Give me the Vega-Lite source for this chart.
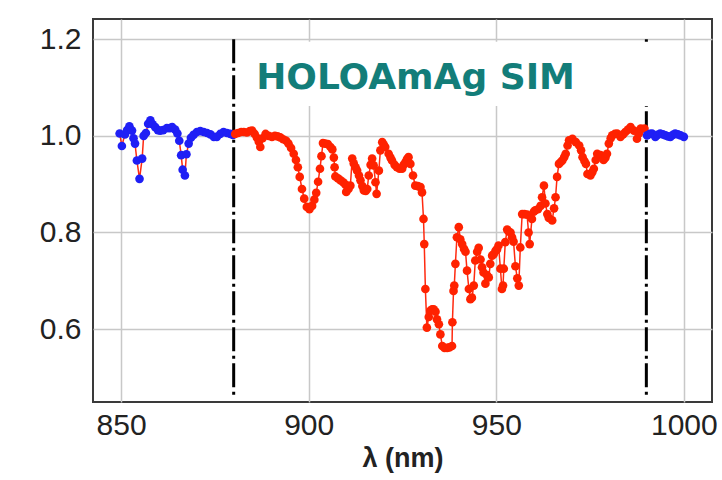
{
  "$schema": "https://vega.github.io/schema/vega-lite/v6.json",
  "width": 619,
  "height": 383,
  "autosize": {"type": "none"},
  "padding": {"left": 93, "top": 19, "right": 10, "bottom": 78},
  "background": "white",
  "config": {
    "view": {"stroke": "#3a3a3a", "strokeWidth": 2},
    "axis": {
      "domain": false,
      "ticks": false,
      "grid": true,
      "gridColor": "#c8c8c8",
      "gridWidth": 1.5,
      "labelFont": "Liberation Sans",
      "labelFontSize": 30,
      "labelColor": "#222222",
      "labelOverlap": false
    }
  },
  "datasets": {
    "vlines": [
      {"lam": 880, "top": 1.2, "bottom": 0.46},
      {"lam": 990, "top": 1.2, "bottom": 0.46}
    ],
    "box": [
      {"x1": 881.2, "x2": 992.5, "y1": 1.195, "y2": 1.062}
    ],
    "label": [
      {"lam": 886.0, "v": 1.097, "text": "HOLOAmAg SIM"}
    ],
    "spec": [
      {"lam": 849.6, "v": 1.005}, {"lam": 850.2, "v": 0.979}, {"lam": 851.0, "v": 1.003}, {"lam": 851.6, "v": 1.012},
      {"lam": 852.2, "v": 1.020}, {"lam": 852.9, "v": 1.011}, {"lam": 853.3, "v": 0.995}, {"lam": 853.7, "v": 0.984},
      {"lam": 854.2, "v": 0.949}, {"lam": 854.9, "v": 0.911}, {"lam": 855.6, "v": 0.953}, {"lam": 856.0, "v": 1.000},
      {"lam": 856.6, "v": 1.006}, {"lam": 857.2, "v": 1.025}, {"lam": 857.8, "v": 1.032}, {"lam": 858.4, "v": 1.024},
      {"lam": 859.1, "v": 1.018}, {"lam": 859.8, "v": 1.012}, {"lam": 860.4, "v": 1.011}, {"lam": 861.2, "v": 1.012},
      {"lam": 862.2, "v": 1.016}, {"lam": 863.0, "v": 1.016}, {"lam": 863.6, "v": 1.018}, {"lam": 864.4, "v": 1.013},
      {"lam": 865.0, "v": 1.005}, {"lam": 865.5, "v": 0.990}, {"lam": 866.0, "v": 0.960}, {"lam": 866.4, "v": 0.930},
      {"lam": 867.0, "v": 0.918}, {"lam": 867.4, "v": 0.962}, {"lam": 868.0, "v": 0.984}, {"lam": 868.6, "v": 0.996},
      {"lam": 869.3, "v": 1.002}, {"lam": 870.2, "v": 1.008}, {"lam": 871.1, "v": 1.010}, {"lam": 872.0, "v": 1.008},
      {"lam": 872.9, "v": 1.006}, {"lam": 873.8, "v": 1.003}, {"lam": 874.7, "v": 0.998}, {"lam": 875.5, "v": 0.998},
      {"lam": 876.4, "v": 1.004}, {"lam": 877.3, "v": 1.008}, {"lam": 878.2, "v": 1.006}, {"lam": 879.1, "v": 1.004},
      {"lam": 879.8, "v": 1.002},
      {"lam": 880.4, "v": 1.004}, {"lam": 881.2, "v": 1.006}, {"lam": 882.0, "v": 1.008}, {"lam": 882.7, "v": 1.008},
      {"lam": 883.5, "v": 1.007}, {"lam": 884.3, "v": 1.010}, {"lam": 884.9, "v": 1.011}, {"lam": 885.6, "v": 1.004},
      {"lam": 886.2, "v": 0.996}, {"lam": 886.7, "v": 0.988}, {"lam": 887.1, "v": 0.977}, {"lam": 887.7, "v": 0.995},
      {"lam": 888.5, "v": 1.004}, {"lam": 889.3, "v": 1.000}, {"lam": 890.2, "v": 0.998}, {"lam": 891.0, "v": 1.000},
      {"lam": 891.7, "v": 0.999}, {"lam": 892.4, "v": 0.997}, {"lam": 893.2, "v": 0.993}, {"lam": 894.0, "v": 0.990},
      {"lam": 894.6, "v": 0.984}, {"lam": 895.3, "v": 0.975}, {"lam": 896.0, "v": 0.963}, {"lam": 896.6, "v": 0.950},
      {"lam": 897.1, "v": 0.935}, {"lam": 897.6, "v": 0.915}, {"lam": 898.2, "v": 0.890}, {"lam": 898.8, "v": 0.870},
      {"lam": 899.5, "v": 0.853}, {"lam": 900.2, "v": 0.848}, {"lam": 900.9, "v": 0.855}, {"lam": 901.5, "v": 0.868},
      {"lam": 902.0, "v": 0.882}, {"lam": 902.5, "v": 0.905}, {"lam": 903.0, "v": 0.932}, {"lam": 903.4, "v": 0.958},
      {"lam": 903.8, "v": 0.985}, {"lam": 904.4, "v": 0.984}, {"lam": 905.1, "v": 0.983}, {"lam": 905.8, "v": 0.977},
      {"lam": 906.3, "v": 0.972}, {"lam": 906.7, "v": 0.955}, {"lam": 906.9, "v": 0.935}, {"lam": 907.1, "v": 0.916},
      {"lam": 907.8, "v": 0.912}, {"lam": 908.5, "v": 0.908}, {"lam": 909.2, "v": 0.904}, {"lam": 909.8, "v": 0.899},
      {"lam": 910.0, "v": 0.884}, {"lam": 910.6, "v": 0.890}, {"lam": 911.1, "v": 0.897}, {"lam": 911.6, "v": 0.953},
      {"lam": 912.0, "v": 0.943}, {"lam": 912.5, "v": 0.935}, {"lam": 912.9, "v": 0.928}, {"lam": 913.4, "v": 0.918},
      {"lam": 913.8, "v": 0.908}, {"lam": 914.3, "v": 0.896}, {"lam": 914.7, "v": 0.887}, {"lam": 915.2, "v": 0.886},
      {"lam": 915.6, "v": 0.890}, {"lam": 916.0, "v": 0.918}, {"lam": 916.5, "v": 0.940}, {"lam": 916.9, "v": 0.953},
      {"lam": 917.3, "v": 0.939}, {"lam": 917.8, "v": 0.904}, {"lam": 918.1, "v": 0.880}, {"lam": 918.7, "v": 0.928},
      {"lam": 919.1, "v": 0.970}, {"lam": 919.6, "v": 0.987}, {"lam": 920.0, "v": 0.982}, {"lam": 920.4, "v": 0.977},
      {"lam": 921.3, "v": 0.963}, {"lam": 921.8, "v": 0.955}, {"lam": 922.2, "v": 0.949}, {"lam": 922.9, "v": 0.940},
      {"lam": 923.5, "v": 0.935}, {"lam": 924.2, "v": 0.932}, {"lam": 924.9, "v": 0.932}, {"lam": 925.3, "v": 0.940},
      {"lam": 925.8, "v": 0.946}, {"lam": 926.2, "v": 0.952}, {"lam": 926.6, "v": 0.956}, {"lam": 927.1, "v": 0.942},
      {"lam": 927.8, "v": 0.918}, {"lam": 928.4, "v": 0.897}, {"lam": 929.1, "v": 0.896}, {"lam": 929.8, "v": 0.894},
      {"lam": 930.2, "v": 0.883}, {"lam": 930.6, "v": 0.828}, {"lam": 930.8, "v": 0.776}, {"lam": 931.1, "v": 0.683},
      {"lam": 931.5, "v": 0.603}, {"lam": 932.0, "v": 0.625}, {"lam": 932.4, "v": 0.638}, {"lam": 932.9, "v": 0.641},
      {"lam": 933.3, "v": 0.641}, {"lam": 933.8, "v": 0.636}, {"lam": 934.2, "v": 0.620}, {"lam": 934.7, "v": 0.610},
      {"lam": 935.1, "v": 0.589}, {"lam": 935.6, "v": 0.565}, {"lam": 936.2, "v": 0.561}, {"lam": 936.9, "v": 0.561},
      {"lam": 937.5, "v": 0.562}, {"lam": 938.2, "v": 0.565}, {"lam": 938.3, "v": 0.614}, {"lam": 938.6, "v": 0.679},
      {"lam": 938.8, "v": 0.690}, {"lam": 939.1, "v": 0.735}, {"lam": 939.5, "v": 0.790}, {"lam": 940.0, "v": 0.811},
      {"lam": 940.4, "v": 0.786}, {"lam": 940.9, "v": 0.776}, {"lam": 941.4, "v": 0.766}, {"lam": 941.8, "v": 0.760},
      {"lam": 942.2, "v": 0.721}, {"lam": 942.7, "v": 0.683}, {"lam": 943.1, "v": 0.662}, {"lam": 943.5, "v": 0.665},
      {"lam": 944.0, "v": 0.690}, {"lam": 944.4, "v": 0.742}, {"lam": 944.9, "v": 0.760}, {"lam": 945.3, "v": 0.768},
      {"lam": 945.8, "v": 0.744}, {"lam": 946.2, "v": 0.728}, {"lam": 946.6, "v": 0.717}, {"lam": 947.1, "v": 0.694},
      {"lam": 947.5, "v": 0.712}, {"lam": 948.0, "v": 0.707}, {"lam": 948.4, "v": 0.735}, {"lam": 948.9, "v": 0.752},
      {"lam": 949.3, "v": 0.755}, {"lam": 949.8, "v": 0.762}, {"lam": 950.2, "v": 0.765}, {"lam": 950.6, "v": 0.773},
      {"lam": 951.1, "v": 0.725}, {"lam": 951.5, "v": 0.683}, {"lam": 951.8, "v": 0.690}, {"lam": 952.0, "v": 0.725},
      {"lam": 952.4, "v": 0.780}, {"lam": 952.9, "v": 0.806}, {"lam": 953.3, "v": 0.802}, {"lam": 953.8, "v": 0.800},
      {"lam": 954.2, "v": 0.790}, {"lam": 954.6, "v": 0.781}, {"lam": 955.1, "v": 0.730}, {"lam": 955.6, "v": 0.705},
      {"lam": 956.0, "v": 0.690}, {"lam": 956.4, "v": 0.769}, {"lam": 956.9, "v": 0.838}, {"lam": 957.5, "v": 0.838},
      {"lam": 958.2, "v": 0.837}, {"lam": 958.6, "v": 0.800}, {"lam": 958.9, "v": 0.776}, {"lam": 959.5, "v": 0.828},
      {"lam": 960.0, "v": 0.843}, {"lam": 960.4, "v": 0.846}, {"lam": 961.1, "v": 0.848}, {"lam": 961.8, "v": 0.855},
      {"lam": 962.2, "v": 0.873}, {"lam": 962.7, "v": 0.897}, {"lam": 963.1, "v": 0.860}, {"lam": 963.6, "v": 0.838},
      {"lam": 964.0, "v": 0.830}, {"lam": 964.9, "v": 0.825}, {"lam": 965.4, "v": 0.850}, {"lam": 965.8, "v": 0.873},
      {"lam": 966.2, "v": 0.915}, {"lam": 966.7, "v": 0.942}, {"lam": 967.2, "v": 0.946}, {"lam": 967.6, "v": 0.949},
      {"lam": 968.1, "v": 0.956}, {"lam": 968.5, "v": 0.963}, {"lam": 969.0, "v": 0.980}, {"lam": 969.4, "v": 0.991},
      {"lam": 970.3, "v": 0.994}, {"lam": 971.2, "v": 0.987}, {"lam": 972.1, "v": 0.980}, {"lam": 972.6, "v": 0.970},
      {"lam": 973.0, "v": 0.956}, {"lam": 973.5, "v": 0.948}, {"lam": 973.9, "v": 0.942}, {"lam": 974.3, "v": 0.921},
      {"lam": 975.1, "v": 0.918}, {"lam": 975.6, "v": 0.925}, {"lam": 976.0, "v": 0.932}, {"lam": 976.5, "v": 0.950},
      {"lam": 976.9, "v": 0.963}, {"lam": 977.8, "v": 0.960}, {"lam": 978.6, "v": 0.950}, {"lam": 979.1, "v": 0.955},
      {"lam": 979.5, "v": 0.963}, {"lam": 980.0, "v": 0.984}, {"lam": 980.5, "v": 0.995}, {"lam": 980.9, "v": 1.001},
      {"lam": 981.6, "v": 1.004}, {"lam": 982.2, "v": 1.005}, {"lam": 983.1, "v": 0.998}, {"lam": 983.8, "v": 1.003},
      {"lam": 984.4, "v": 1.008}, {"lam": 985.1, "v": 1.013}, {"lam": 985.8, "v": 1.018}, {"lam": 986.7, "v": 1.011},
      {"lam": 987.5, "v": 0.994}, {"lam": 988.0, "v": 1.005}, {"lam": 988.5, "v": 1.015}, {"lam": 989.5, "v": 1.015},
      {"lam": 990.2, "v": 1.001}, {"lam": 990.9, "v": 1.004}, {"lam": 991.5, "v": 1.005}, {"lam": 992.4, "v": 0.998},
      {"lam": 993.0, "v": 1.002}, {"lam": 993.7, "v": 1.005}, {"lam": 994.4, "v": 1.003}, {"lam": 995.1, "v": 1.001},
      {"lam": 995.8, "v": 0.999}, {"lam": 996.4, "v": 0.998}, {"lam": 997.1, "v": 1.002}, {"lam": 997.7, "v": 1.005},
      {"lam": 998.4, "v": 1.003}, {"lam": 999.1, "v": 1.001}, {"lam": 1000.0, "v": 0.998}
    ]
  },
  "layer": [
    {
      "data": {"name": "vlines"},
      "mark": {"type": "rule", "color": "#000000", "strokeWidth": 3, "strokeDash": [24, 4.5, 3, 4.5]},
      "encoding": {
        "x": {
          "field": "lam", "type": "quantitative",
          "scale": {"domain": [842.5, 1007.5], "nice": false, "zero": false},
          "axis": {
            "values": [850, 900, 950, 1000],
            "format": "d",
            "labelFlush": false,
            "labelPadding": 8,
            "title": "λ (nm)",
            "titleFont": "Liberation Sans",
            "titleFontWeight": "bold",
            "titleFontSize": 27,
            "titleColor": "#222222",
            "titlePadding": 5
          }
        },
        "y": {
          "field": "top", "type": "quantitative",
          "scale": {"domain": [0.449, 1.242], "nice": false, "zero": false},
          "axis": {
            "values": [0.6, 0.8, 1.0, 1.2],
            "format": ".1f",
            "labelPadding": 12,
            "title": null
          }
        },
        "y2": {"field": "bottom"}
      }
    },
    {
      "data": {"name": "box"},
      "mark": {"type": "rect", "color": "#ffffff"},
      "encoding": {
        "x": {"field": "x1", "type": "quantitative", "scale": {"domain": [842.5, 1007.5], "nice": false, "zero": false}},
        "x2": {"field": "x2"},
        "y": {"field": "y1", "type": "quantitative", "scale": {"domain": [0.449, 1.242], "nice": false, "zero": false}},
        "y2": {"field": "y2"}
      }
    },
    {
      "data": {"name": "label"},
      "mark": {"type": "text", "font": "DejaVu Sans", "fontWeight": "bold", "fontSize": 36, "color": "#137d79", "align": "left", "baseline": "alphabetic"},
      "encoding": {
        "x": {"field": "lam", "type": "quantitative", "scale": {"domain": [842.5, 1007.5], "nice": false, "zero": false}},
        "y": {"field": "v", "type": "quantitative", "scale": {"domain": [0.449, 1.242], "nice": false, "zero": false}},
        "text": {"field": "text"}
      }
    },
    {
      "data": {"name": "spec"},
      "mark": {"type": "line", "color": "#ff2a10", "strokeWidth": 1.5},
      "encoding": {
        "x": {"field": "lam", "type": "quantitative", "scale": {"domain": [842.5, 1007.5], "nice": false, "zero": false}},
        "y": {"field": "v", "type": "quantitative", "scale": {"domain": [0.449, 1.242], "nice": false, "zero": false}},
        "order": {"value": null}
      }
    },
    {
      "data": {"name": "spec"},
      "mark": {"type": "point", "filled": true, "size": 75, "opacity": 1},
      "encoding": {
        "x": {"field": "lam", "type": "quantitative", "scale": {"domain": [842.5, 1007.5], "nice": false, "zero": false}},
        "y": {"field": "v", "type": "quantitative", "scale": {"domain": [0.449, 1.242], "nice": false, "zero": false}},
        "color": {
          "condition": {"test": "datum.lam < 880 || datum.lam > 990", "value": "#1f1ff5"},
          "value": "#ff2200"
        }
      }
    }
  ]
}
